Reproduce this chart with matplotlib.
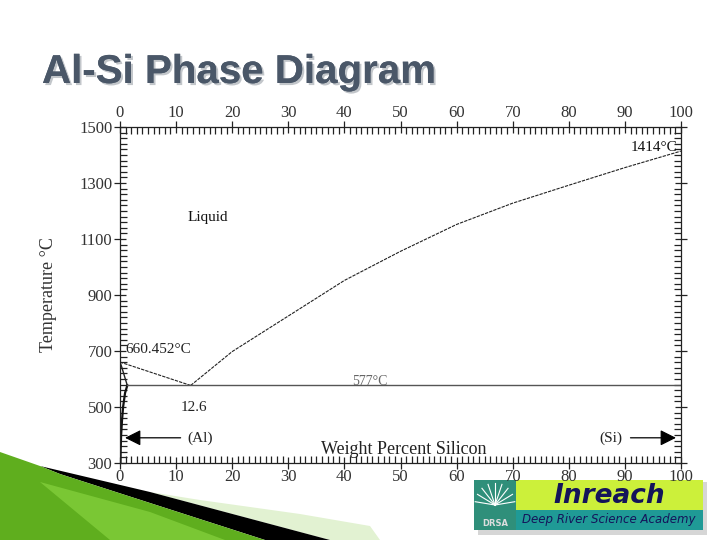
import numpy as np
import matplotlib.pyplot as plt
import matplotlib.patheffects as pe
from matplotlib.patches import Polygon, Rectangle, FancyArrowPatch
from matplotlib.ticker import MultipleLocator

# ================= DADOS =================
# liquidus, lado do Al (0 -> eutetico)
liq_al_x = [0.0, 12.6]
liq_al_t = [660.452, 577.0]

# liquidus, lado do Si (eutetico -> 100)
liq_si_x = [12.6, 20, 30, 40, 50, 60, 70, 80, 90, 100]
liq_si_t = [577.0, 698, 825, 952, 1056, 1152, 1228, 1292, 1355, 1414]

# solidus / solvus do (Al)
sol_x = [0.0, 0.35, 0.8, 1.3]
sol_t = [660.452, 640, 610, 577]
solvus_x = [1.3, 0.9, 0.55, 0.35, 0.2, 0.12, 0.08]
solvus_t = [577, 550, 500, 450, 400, 350, 300]

eut_x = [1.3, 100]
eut_t = [577, 577]

x_ticks = list(range(0, 101, 10))
y_ticks = list(range(300, 1501, 200))

serif = ['Liberation Serif', 'DejaVu Serif']
tcol = '#333333'

# ================= FIGURA =================
fig = plt.figure(figsize=(7.2, 5.4), dpi=100)
fig.patch.set_facecolor('white')

# titulo
fig.text(42 / 720, 1 - 72 / 540, 'Al-Si Phase Diagram', fontsize=29,
         fontweight='bold', color='#4a5768',
         family=['Liberation Sans Narrow', 'Liberation Sans', 'DejaVu Sans'], va='center',
         path_effects=[pe.withSimplePatchShadow(offset=(1.5, -1.5), shadow_rgbFace='#9aa0a8', alpha=0.6),
                       pe.Normal()])

ax = fig.add_axes([120 / 720, 1 - 463 / 540, 561 / 720, 336 / 540])
ax.set_xlim(0, 100)
ax.set_ylim(300, 1500)

# curvas
ax.plot(liq_al_x, liq_al_t, color='#222222', lw=0.8, ls=(0, (3, 1)))
ax.plot(liq_si_x, liq_si_t, color='#222222', lw=0.8, ls=(0, (3, 1)))
ax.plot(sol_x, sol_t, color='#222222', lw=1.0)
ax.plot(solvus_x, solvus_t, color='#111111', lw=1.6)
ax.plot(eut_x, eut_t, color='#555555', lw=1.0)

# textos
ax.text(12.0, 1175, 'Liquid', family=serif, fontsize=11, color='#111111', va='center')
ax.text(99.3, 1428, '1414\u00b0C', family=serif, fontsize=11, color='#111111', ha='right', va='center')
ax.text(0.9, 707, '660.452\u00b0C', family=serif, fontsize=11, color='#222222', va='center')
ax.text(13.2, 497, '12.6', family=serif, fontsize=11, color='#222222', ha='center', va='center')
ax.text(44.5, 590, '577\u00b0C', family=serif, fontsize=10, color='#666666', ha='center', va='center')
ax.text(14.3, 390, '(Al)', family=serif, fontsize=11, color='#222222', ha='center', va='center')
ax.text(87.5, 390, '(Si)', family=serif, fontsize=11, color='#222222', ha='center', va='center')
ax.text(50.5, 347, 'Weight Percent Silicon', family=serif, fontsize=13, color='#222222',
        ha='center', va='center')

# setas (Al) e (Si)
ax.add_patch(FancyArrowPatch((11.3, 390), (0.4, 390), arrowstyle='-|>,head_length=6,head_width=3',
                             color='black', lw=0.9, mutation_scale=1.6))
ax.add_patch(FancyArrowPatch((90.5, 390), (99.6, 390), arrowstyle='-|>,head_length=6,head_width=3',
                             color='black', lw=0.9, mutation_scale=1.6))

# eixos
ax.set_xticks(x_ticks)
ax.set_yticks(y_ticks)
ax.xaxis.set_minor_locator(MultipleLocator(1))
ax.yaxis.set_minor_locator(MultipleLocator(20))
ax.tick_params(which='both', top=True, right=True, labeltop=True, labelright=False,
               colors='#222222', labelcolor=tcol, width=0.9)
ax.tick_params(axis='x', which='major', direction='inout', length=9, labelsize=12, pad=0)
ax.tick_params(axis='x', which='minor', direction='in', length=5)
ax.tick_params(axis='y', which='major', direction='inout', length=9, labelsize=12, pad=1)
ax.tick_params(axis='y', which='minor', direction='in', length=5)
for lab in ax.get_xticklabels() + ax.get_yticklabels():
    lab.set_family(serif)
for sp in ax.spines.values():
    sp.set_color('#222222')
    sp.set_linewidth(0.9)

ax.set_ylabel('Temperature \u00b0C', family=serif, fontsize=13, color=tcol, labelpad=16)

# ================= DECORACAO DO SLIDE =================
W, H = 720.0, 540.0
def px(pts):
    return [(x / W, 1 - y / H) for x, y in pts]

# faixa verde clara
fig.patches.append(Polygon(px([(100, 484), (200, 500), (300, 514), (370, 526), (380, 540),
                               (330, 540), (150, 492)]),
                           closed=True, transform=fig.transFigure, facecolor='#e2f2d2',
                           edgecolor='none', zorder=-2))
# faixa preta
fig.patches.append(Polygon(px([(40, 466), (150, 492), (330, 540), (265, 540), (150, 503), (60, 474)]),
                           closed=True, transform=fig.transFigure, facecolor='black',
                           edgecolor='none', zorder=-1))
# verde
green_pts = [(0, 452), (40, 466), (60, 474), (150, 503), (265, 540), (0, 540)]
fig.patches.append(Polygon(px(green_pts), closed=True, transform=fig.transFigure,
                           facecolor='#5fae1e', edgecolor='none', zorder=-1))
fig.patches.append(Polygon(px([(40, 482), (150, 512), (225, 540), (110, 540)]), closed=True,
                           transform=fig.transFigure, facecolor='#86d23e', edgecolor='none',
                           alpha=0.7, zorder=-1))

# logo Inreach
fig.patches.append(Rectangle((478 / W, 1 - 535 / H), 229 / W, 53 / H, transform=fig.transFigure,
                             facecolor='#bbbbbb', edgecolor='none', alpha=0.6, zorder=-3))
fig.patches.append(Rectangle((474 / W, 1 - 530 / H), 42 / W, 50 / H, transform=fig.transFigure,
                             facecolor='#2f8f7a', edgecolor='none', zorder=-2))
fig.patches.append(Rectangle((516 / W, 1 - 510 / H), 187 / W, 30 / H, transform=fig.transFigure,
                             facecolor='#ccf03a', edgecolor='none', zorder=-2))
fig.patches.append(Rectangle((516 / W, 1 - 530 / H), 187 / W, 20 / H, transform=fig.transFigure,
                             facecolor='#1f9a96', edgecolor='none', zorder=-2))
fig.text(609 / W, 1 - 496 / H, 'Inreach', fontsize=19, fontweight='bold', style='italic',
         color='#14145a', ha='center', va='center', family=['DejaVu Sans'], zorder=-1)
fig.text(609 / W, 1 - 520 / H, 'Deep River Science Academy', fontsize=8.5, style='italic',
         color='#14145a', ha='center', va='center', family=['DejaVu Sans'], zorder=-1)
fig.text(495 / W, 1 - 524 / H, 'DRSA', fontsize=6, fontweight='bold', color='#dddddd',
         ha='center', va='center', zorder=-1)
for a in np.linspace(0.15, np.pi - 0.15, 9):
    fig.lines.append(plt.Line2D([495 / W, (495 + 20 * np.cos(a)) / W],
                                [1 - 505 / H, 1 - (505 - 22 * np.sin(a)) / H],
                                transform=fig.transFigure, color='white', lw=0.8, zorder=-1))

fig.savefig('out.png', dpi=100)
